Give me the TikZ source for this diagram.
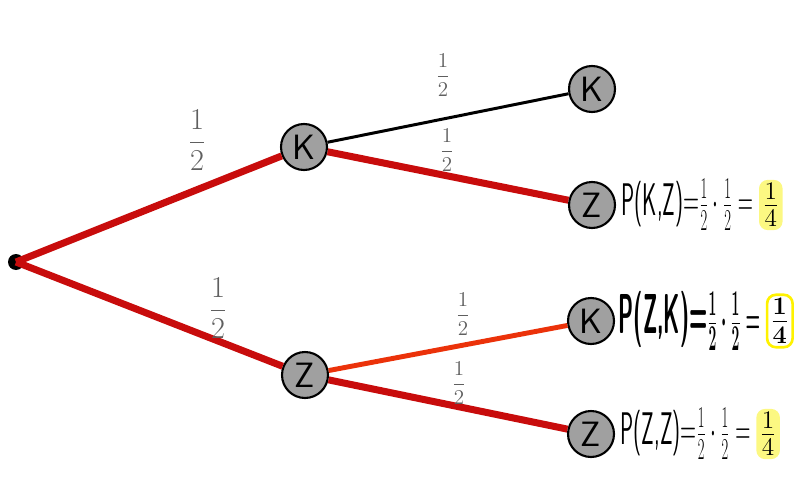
\documentclass[tikz,border=0pt]{standalone}
\usepackage{fontspec}
\usepackage{graphicx}
\usetikzlibrary{positioning}
\definecolor{branchred}{RGB}{200,12,12}
\definecolor{pathorange}{RGB}{235,50,10}
\definecolor{knotgray}{RGB}{160,160,160}
\definecolor{labelgray}{RGB}{95,95,95}
\definecolor{marker}{RGB}{252,248,130}
\begin{document}
\begin{tikzpicture}[x=.02cm,y=-.02cm,
  knot/.style={circle,draw,line width=1.2pt,fill=knotgray,minimum size=.92cm,
    inner sep=0pt,font=\fontsize{20}{22}\selectfont\sffamily},
  branch/.style={line width=4pt,branchred},
  half/.style={text=labelgray,inner sep=1pt,font=\fontsize{12}{14}\selectfont},
  big half/.style={half,font=\fontsize{17}{19}\selectfont},
  formula/.style={inner sep=1pt,font=\fontsize{26}{28}\selectfont\sffamily},
  result/.style={inner sep=2pt,rounded corners=5pt,font=\fontsize{20}{22}\selectfont}]
  \useasboundingbox (0,0) rectangle (800,500);
  % tree
  \node[fill,circle,inner sep=0pt,minimum size=.32cm] (root) at (16,262) {};
  \node[knot] (k) at (304,147) {K};
  \node[knot] (z) at (305,375) {Z};
  \node[knot] (kk) at (592,89) {K};
  \node[knot] (kz) at (592,205) {Z};
  \node[knot] (zk) at (591,321) {K};
  \node[knot] (zz) at (591,434) {Z};
  \draw[branch] (root.center) -- (k);
  \draw[branch] (root.center) -- (z);
  \draw[line width=1.7pt] (k) -- (kk);
  \draw[branch] (k) -- (kz);
  \draw[line width=2.8pt,pathorange] (z) -- (zk);
  \draw[branch] (z) -- (zz);
  % probabilities
  \node[big half] (h-k) at (197,140) {$\displaystyle\frac{1}{2}$};
  \node[big half] (h-z) at (218,308) {$\displaystyle\frac{1}{2}$};
  \node[half] (h-kk) at (443,75) {$\displaystyle\frac{1}{2}$};
  \node[half] (h-kz) at (447,150) {$\displaystyle\frac{1}{2}$};
  \node[half] (h-zk) at (463,314) {$\displaystyle\frac{1}{2}$};
  \node[half] (h-zz) at (459,383) {$\displaystyle\frac{1}{2}$};
  % path products
  \node[formula,right=2pt of kz] (f-kz) {\scalebox{.48}[1]{P(K,Z)=$\frac{1}{2}\cdot\frac{1}{2}=$}};
  \node[result,fill=marker,right=2pt of f-kz] (r-kz) {$\frac{1}{4}$};
  \node[formula,font=\fontsize{32}{34}\selectfont\sffamily\bfseries,right=1pt of zk] (f-zk)
    {\scalebox{.38}[1]{\boldmath P(Z,K)=$\frac{1}{2}\cdot\frac{1}{2}=$}};
  \node[result,draw=yellow,line width=1.5pt,font=\fontsize{22}{24}\selectfont\boldmath,right=2pt of f-zk] (r-zk) {$\frac{1}{4}$};
  \node[formula,right=2pt of zz] (f-zz) {\scalebox{.48}[1]{P(Z,Z)=$\frac{1}{2}\cdot\frac{1}{2}=$}};
  \node[result,fill=marker,right=2pt of f-zz] (r-zz) {$\frac{1}{4}$};
\end{tikzpicture}
\end{document}
